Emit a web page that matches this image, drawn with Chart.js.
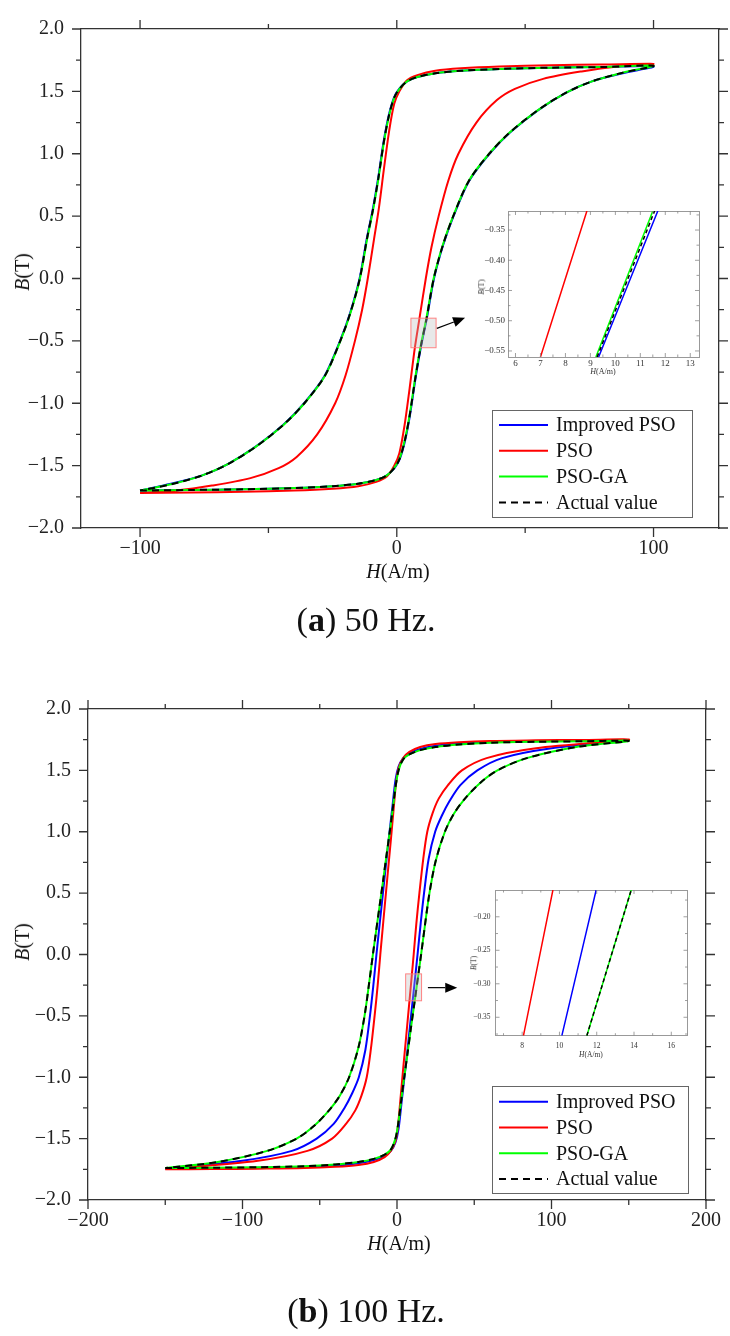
<!DOCTYPE html>
<html><head><meta charset="utf-8">
<script src="https://cdn.jsdelivr.net/npm/chart.js@4.4.0/dist/chart.umd.min.js"></script>
<style>
html,body{margin:0;padding:0;background:#fff;}
body{width:730px;height:1336px;position:relative;overflow:hidden;font-family:"Liberation Serif","Times New Roman",serif;}
canvas{position:absolute;}
.t{position:absolute;transform:translate(-50%,-50%);white-space:nowrap;color:#111;font-family:"Liberation Serif","Times New Roman",serif;line-height:1;}
.r{transform:translate(-50%,-50%) rotate(-90deg);}
</style></head><body>
<canvas id="ca" width="730" height="600" style="left:0;top:0"></canvas>
<canvas id="cb" width="730" height="600" style="left:0;top:680px"></canvas>
<canvas id="ia" width="240" height="185" style="left:470px;top:200px"></canvas>
<canvas id="ib" width="235" height="185" style="left:460px;top:880px"></canvas>

<div class="t r" style="left:22px;top:272px;font-size:20px"><i>B</i>(T)</div>
<div class="t" style="left:398px;top:571px;font-size:20px"><i>H</i>(A/m)</div>
<div class="t" style="left:366px;top:620px;font-size:34px">(<b>a</b>) 50 Hz.</div>
<div class="t r" style="left:22px;top:942px;font-size:20px"><i>B</i>(T)</div>
<div class="t" style="left:399px;top:1243px;font-size:20px"><i>H</i>(A/m)</div>
<div class="t" style="left:366px;top:1311px;font-size:34px">(<b>b</b>) 100 Hz.</div>
<div class="t r" style="left:482px;top:287px;font-size:8px;color:#333"><i>B</i>(T)</div>
<div class="t" style="left:603px;top:372px;font-size:8px;color:#333"><i>H</i>(A/m)</div>
<div class="t r" style="left:474px;top:963px;font-size:7.5px;color:#333"><i>B</i>(T)</div>
<div class="t" style="left:591px;top:1055px;font-size:7.5px;color:#333"><i>H</i>(A/m)</div>

<script>
// ---------------- series labels ----------------
const seriesNames = ['Improved PSO', 'PSO', 'PSO-GA', 'Actual value'];

// ---------------- (a) 50 Hz ----------------
const Ha_act_up = [-100,-80,-60,-40,-25,-15,-8,-4,-1,1,3,5,7.2,9.3,11.6,14.4,18,22,28,36,44,55,66,76,88,100];
const Ba_act_up = [-1.70,-1.695,-1.69,-1.68,-1.665,-1.645,-1.615,-1.58,-1.52,-1.45,-1.31,-1.10,-0.80,-0.55,-0.32,0.0,0.27,0.50,0.78,1.0,1.17,1.35,1.49,1.58,1.65,1.705];
const Ha_act_dn = [100,80,60,40,25,15,8,4,1,-1,-3,-5,-7.2,-9.3,-11.6,-14.4,-18,-22,-28,-36,-44,-55,-66,-76,-88,-100];
const Ba_act_dn = [1.705,1.695,1.69,1.68,1.665,1.645,1.615,1.58,1.52,1.45,1.31,1.10,0.80,0.55,0.32,0.0,-0.27,-0.50,-0.78,-1.0,-1.17,-1.35,-1.49,-1.58,-1.65,-1.70];

const Ha_imp_up = [-100,-80,-60,-40,-25,-15,-8,-4,-0.9,1.1,3.1,5.1,7.3,9.4,11.7,14.5,18.1,22.1,28.1,36.1,44.1,55.1,66,76,88,100];
const Ba_imp_up = [-1.70,-1.695,-1.69,-1.68,-1.665,-1.645,-1.615,-1.58,-1.52,-1.45,-1.31,-1.10,-0.80,-0.55,-0.32,0.0,0.27,0.50,0.78,1.0,1.17,1.35,1.49,1.58,1.645,1.70];
const Ha_imp_dn = [100,80,60,40,25,15,8,4,0.9,-1.1,-3.1,-5.1,-7.3,-9.4,-11.7,-14.5,-18.1,-22.1,-28.1,-36.1,-44.1,-55.1,-66,-76,-88,-100];
const Ba_imp_dn = [1.70,1.695,1.69,1.68,1.665,1.645,1.615,1.58,1.52,1.45,1.31,1.10,0.80,0.55,0.32,0.0,-0.27,-0.50,-0.78,-1.0,-1.17,-1.35,-1.49,-1.58,-1.645,-1.70];

const Ha_ga_up = [-100,-80,-60,-40,-25,-15,-8,-4,-1.05,0.95,2.95,4.95,7.15,9.22,11.52,14.35,17.95,21.95,27.95,35.95,43.95,55,66,76,88,100];
const Ba_ga_up = [-1.70,-1.695,-1.69,-1.68,-1.665,-1.645,-1.615,-1.58,-1.52,-1.45,-1.31,-1.10,-0.80,-0.55,-0.32,0.0,0.27,0.50,0.78,1.0,1.17,1.35,1.49,1.58,1.65,1.705];
const Ha_ga_dn = [100,80,60,40,25,15,8,4,1.05,-0.95,-2.95,-4.95,-7.15,-9.22,-11.52,-14.35,-17.95,-21.95,-27.95,-35.95,-43.95,-55,-66,-76,-88,-100];
const Ba_ga_dn = [1.705,1.695,1.69,1.68,1.665,1.645,1.615,1.58,1.52,1.45,1.31,1.10,0.80,0.55,0.32,0.0,-0.27,-0.50,-0.78,-1.0,-1.17,-1.35,-1.49,-1.58,-1.65,-1.70];

const Ha_pso_up = [-100,-80,-60,-40,-25,-15,-8,-4,-1,1,3,5,7.0,8.85,11.3,13.5,16.3,20,24,31,39,46,57,72,86,100];
const Ba_pso_up = [-1.72,-1.715,-1.71,-1.70,-1.685,-1.665,-1.63,-1.59,-1.50,-1.40,-1.18,-0.88,-0.56,-0.318,0.0,0.25,0.5,0.78,1.0,1.25,1.43,1.52,1.60,1.66,1.70,1.72];
const Ha_pso_dn = [100,80,60,40,25,15,8,4,1,-1,-3,-5,-7.0,-8.85,-11.3,-13.5,-16.3,-20,-24,-31,-39,-46,-57,-72,-86,-100];
const Ba_pso_dn = [1.72,1.715,1.71,1.70,1.685,1.665,1.63,1.59,1.50,1.40,1.18,0.88,0.56,0.318,0.0,-0.25,-0.5,-0.78,-1.0,-1.25,-1.43,-1.52,-1.60,-1.66,-1.70,-1.72];

// inset (a): zoomed segment
const IA_B   = [-0.56, -0.3185];
const IA_imp = [9.33, 11.70];
const IA_pso = [7.00, 8.86];
const IA_ga  = [9.22, 11.50];
const IA_act = [9.27, 11.57];

// ---------------- (b) 100 Hz ----------------
const Hb_act_up = [-150,-120,-90,-60,-40,-25,-15,-8,-4,-1,1,3,5,7,9,11.47,13.85,15.6,18,21,25,31,37,44,54,65,84,116,150];
const Bb_act_up = [-1.74,-1.737,-1.733,-1.725,-1.71,-1.69,-1.665,-1.63,-1.59,-1.50,-1.36,-1.16,-0.97,-0.79,-0.60,-0.3775,-0.16,0.0,0.23,0.50,0.76,1.0,1.15,1.27,1.40,1.50,1.60,1.69,1.74];
const Hb_act_dn = [150,120,90,60,40,25,15,8,4,1,-1,-3,-5,-7,-9,-11.47,-13.85,-15.6,-18,-21,-25,-31,-37,-44,-54,-65,-84,-116,-150];
const Bb_act_dn = [1.74,1.737,1.733,1.725,1.71,1.69,1.665,1.63,1.59,1.50,1.36,1.16,0.97,0.79,0.60,0.3775,0.16,0.0,-0.23,-0.50,-0.76,-1.0,-1.15,-1.27,-1.40,-1.50,-1.60,-1.69,-1.74];

const Hb_ga_up = [-150,-120,-90,-60,-40,-25,-15,-8,-4,-1,1,3,5,7,9,11.47,13.85,15.6,18,21,25,31,37,44,54,65,84,116,150];
const Bb_ga_up = [-1.74,-1.737,-1.733,-1.725,-1.71,-1.69,-1.665,-1.63,-1.59,-1.50,-1.36,-1.16,-0.97,-0.79,-0.60,-0.3775,-0.16,0.0,0.23,0.50,0.76,1.0,1.15,1.27,1.40,1.50,1.60,1.69,1.74];
const Hb_ga_dn = [150,120,90,60,40,25,15,8,4,1,-1,-3,-5,-7,-9,-11.47,-13.85,-15.6,-18,-21,-25,-31,-37,-44,-54,-65,-84,-116,-150];
const Bb_ga_dn = [1.74,1.737,1.733,1.725,1.71,1.69,1.665,1.63,1.59,1.50,1.36,1.16,0.97,0.79,0.60,0.3775,0.16,0.0,-0.23,-0.50,-0.76,-1.0,-1.15,-1.27,-1.40,-1.50,-1.60,-1.69,-1.74];

const Hb_imp_up = [-150,-120,-90,-60,-40,-25,-15,-8,-4,-1,1,3,5,7,10.13,11.97,13.3,15.3,17.5,20.5,24.7,29,34,41,52,68,100,150];
const Bb_imp_up = [-1.745,-1.742,-1.738,-1.73,-1.72,-1.70,-1.675,-1.64,-1.60,-1.53,-1.42,-1.20,-0.98,-0.75,-0.3775,-0.16,0.0,0.25,0.5,0.78,1.0,1.13,1.25,1.38,1.5,1.6,1.68,1.745];
const Hb_imp_dn = [150,120,90,60,40,25,15,8,4,1,-1,-3,-5,-7,-10.13,-11.97,-13.3,-15.3,-17.5,-20.5,-24.7,-29,-34,-41,-52,-68,-100,-150];
const Bb_imp_dn = [1.745,1.742,1.738,1.73,1.72,1.70,1.675,1.64,1.60,1.53,1.42,1.20,0.98,0.75,0.3775,0.16,0.0,-0.25,-0.5,-0.78,-1.0,-1.13,-1.25,-1.38,-1.5,-1.6,-1.68,-1.745];

const Hb_pso_up = [-150,-120,-90,-60,-40,-25,-15,-8,-4,-1,0.5,2,4,6,8.07,9.65,10.8,12.5,14.5,17,19.6,23,27,33,42,58,90,150];
const Bb_pso_up = [-1.75,-1.748,-1.745,-1.74,-1.73,-1.715,-1.69,-1.65,-1.60,-1.52,-1.41,-1.21,-0.93,-0.66,-0.3775,-0.16,0.0,0.25,0.5,0.78,1.0,1.15,1.27,1.38,1.5,1.6,1.68,1.75];
const Hb_pso_dn = [150,120,90,60,40,25,15,8,4,1,-0.5,-2,-4,-6,-8.07,-9.65,-10.8,-12.5,-14.5,-17,-19.6,-23,-27,-33,-42,-58,-90,-150];
const Bb_pso_dn = [1.75,1.748,1.745,1.74,1.73,1.715,1.69,1.65,1.60,1.52,1.41,1.21,0.93,0.66,0.3775,0.16,0.0,-0.25,-0.5,-0.78,-1.0,-1.15,-1.27,-1.38,-1.5,-1.6,-1.68,-1.75];

// inset (b)
const IB_B   = [-0.3775, -0.16];
const IB_imp = [10.13, 11.97];
const IB_pso = [8.07, 9.65];
const IB_ga  = [11.47, 13.85];
const IB_act = [11.47, 13.85];

// ---------------- ticks ----------------
const A_xTicks = [-100, 0, 100];           const A_xMinor = [-50, 50];
const B_xTicks = [-200, -100, 0, 100, 200]; const B_xMinor = [-150, -50, 50, 150];
const M_yTicks = [-2, -1.5, -1, -0.5, 0, 0.5, 1, 1.5, 2];
const M_yMinor = [-1.75, -1.25, -0.75, -0.25, 0.25, 0.75, 1.25, 1.75];
const IA_xTicks = [6, 7, 8, 9, 10, 11, 12, 13]; const IA_xMinor = [6.5, 7.5, 8.5, 9.5, 10.5, 11.5, 12.5];
const IA_yTicks = [-0.55, -0.5, -0.45, -0.4, -0.35]; const IA_yMinor = [-0.525, -0.475, -0.425, -0.375, -0.325];
const IB_xTicks = [8, 10, 12, 14, 16]; const IB_xMinor = [7, 9, 11, 13, 15];
const IB_yTicks = [-0.35, -0.3, -0.25, -0.2]; const IB_yMinor = [-0.375, -0.325, -0.275, -0.225, -0.175];

// zoom markers (data units): [H0, H1, B0, B1] and arrow [H0, B0, H1, B1]
const A_zoomRect = [5.5, 15.3, -0.555, -0.318];
const A_arrow = [15.6, -0.40, 26.6, -0.315];
const B_zoomRect = [5.6, 15.9, -0.377, -0.158];
const B_arrow = [20.0, -0.27, 39.0, -0.27];

// ---------------- helpers ----------------
const FAM = "'Liberation Serif','Times New Roman',serif";
const COLORS = {imp: '#0000ff', pso: '#ff0000', ga: '#00ff00', act: '#000000'};
function pts(H, B) { return H.map((h, i) => ({x: h, y: B[i]})); }
function loop(Hu, Bu, Hd, Bd) { return pts(Hu, Bu).concat(pts(Hd, Bd).slice(1)); }
function fmt(v, d) { return (v < -1e-9 ? '\u2212' : '') + Math.abs(v).toFixed(d); }
function ds(label, data, color, order, dash, w) {
  return {label, data, borderColor: color, backgroundColor: color, borderWidth: w || 2, pointRadius: 0,
    showLine: true, tension: 0.3, fill: false, order, borderDash: dash || []};
}

const frameTicks = {
  id: 'frameTicks',
  afterDraw(chart, args, o) {
    const ctx = chart.ctx, a = chart.chartArea, sx = chart.scales.x, sy = chart.scales.y;
    const d = o.inward ? -1 : 1;
    ctx.save(); ctx.strokeStyle = o.color; ctx.lineWidth = o.width; ctx.beginPath();
    const h = (v, L) => { const p = sx.getPixelForValue(v);
      ctx.moveTo(p, a.bottom); ctx.lineTo(p, a.bottom + d * L);
      ctx.moveTo(p, a.top); ctx.lineTo(p, a.top - d * L); };
    const vv = (v, L) => { const p = sy.getPixelForValue(v);
      ctx.moveTo(a.left, p); ctx.lineTo(a.left - d * L, p);
      ctx.moveTo(a.right, p); ctx.lineTo(a.right + d * L, p); };
    o.xMajor.forEach(v => h(v, o.major)); o.xMinor.forEach(v => h(v, o.minor));
    o.yMajor.forEach(v => vv(v, o.major)); o.yMinor.forEach(v => vv(v, o.minor));
    ctx.stroke(); ctx.restore();
  }
};

const boxLegend = {
  id: 'boxLegend',
  afterDraw(chart, args, o) {
    if (!o || !o.show) return;
    const ctx = chart.ctx;
    ctx.save();
    ctx.fillStyle = '#fff'; ctx.fillRect(o.x, o.y, o.w, o.h);
    ctx.strokeStyle = '#666'; ctx.lineWidth = 1; ctx.strokeRect(o.x + 0.5, o.y + 0.5, o.w, o.h);
    seriesNames.forEach((name, i) => {
      const dset = chart.data.datasets.find(d => d.label === name);
      const y = o.y + o.first + i * o.gap;
      ctx.strokeStyle = dset.borderColor; ctx.lineWidth = 2; ctx.setLineDash(dset.borderDash || []);
      ctx.beginPath(); ctx.moveTo(o.x + 7, y); ctx.lineTo(o.x + 56, y); ctx.stroke(); ctx.setLineDash([]);
      ctx.fillStyle = '#111'; ctx.font = '20px ' + FAM; ctx.textBaseline = 'middle'; ctx.textAlign = 'left';
      ctx.fillText(name, o.x + 64, y + 1);
    });
    ctx.restore();
  }
};

const zoomMark = {
  id: 'zoomMark',
  afterDatasetsDraw(chart, args, o) {
    if (!o || !o.rect) return;
    const ctx = chart.ctx, sx = chart.scales.x, sy = chart.scales.y;
    const x0 = sx.getPixelForValue(o.rect[0]), x1 = sx.getPixelForValue(o.rect[1]);
    const y0 = sy.getPixelForValue(o.rect[2]), y1 = sy.getPixelForValue(o.rect[3]);
    ctx.save();
    ctx.fillStyle = 'rgba(190,190,190,0.35)'; ctx.fillRect(x0, y1, x1 - x0, y0 - y1);
    ctx.strokeStyle = 'rgba(255,120,120,0.9)'; ctx.lineWidth = 1; ctx.strokeRect(x0, y1, x1 - x0, y0 - y1);
    const ax0 = sx.getPixelForValue(o.arrow[0]), ay0 = sy.getPixelForValue(o.arrow[1]);
    const ax1 = sx.getPixelForValue(o.arrow[2]), ay1 = sy.getPixelForValue(o.arrow[3]);
    const ang = Math.atan2(ay1 - ay0, ax1 - ax0), L = 12, W = 5;
    const bx = ax1 - L * Math.cos(ang), by = ay1 - L * Math.sin(ang);
    ctx.strokeStyle = '#000'; ctx.lineWidth = 1.2;
    ctx.beginPath(); ctx.moveTo(ax0, ay0); ctx.lineTo(bx, by); ctx.stroke();
    ctx.fillStyle = '#000'; ctx.beginPath(); ctx.moveTo(ax1, ay1);
    ctx.lineTo(bx - W * Math.sin(ang), by + W * Math.cos(ang));
    ctx.lineTo(bx + W * Math.sin(ang), by - W * Math.cos(ang)); ctx.closePath(); ctx.fill();
    ctx.restore();
  }
};

function axis(pos, min, max, step, size, tickOpts, borderColor, bw, show) {
  return {
    type: 'linear', position: pos, min, max,
    afterFit: s => { if (pos === 'left' || pos === 'right') s.width = size; else s.height = size; },
    ticks: Object.assign({display: show, stepSize: step, includeBounds: false, autoSkip: false, maxRotation: 0, minRotation: 0}, tickOpts),
    grid: {display: true, drawOnChartArea: false, drawTicks: false},
    border: {display: true, color: borderColor, width: bw}
  };
}

function makeMain(id, datasets, o) {
  const tk = (pad, dec) => ({padding: pad, color: '#222', font: {family: FAM, size: 20}, callback: v => fmt(v, dec)});
  return new Chart(document.getElementById(id), {
    type: 'scatter',
    data: {datasets},
    options: {
      responsive: false, animation: false, devicePixelRatio: 1,
      layout: {padding: 0},
      plugins: {
        legend: {display: false}, tooltip: {enabled: false},
        frameTicks: {xMajor: o.xTicks, xMinor: o.xMinor, yMajor: M_yTicks, yMinor: M_yMinor, major: 9, minor: 5, inward: false, color: '#333', width: 1.3},
        boxLegend: Object.assign({show: true}, o.legend),
        zoomMark: {rect: o.rect, arrow: o.arrow}
      },
      scales: {
        x: axis('bottom', o.xmin, o.xmax, o.xstep, o.bottomH, tk(o.xpad, 0), '#333', 1.3, true),
        x2: axis('top', o.xmin, o.xmax, o.xstep, o.topH, {}, '#333', 1.3, false),
        y: axis('left', -2, 2, 0.5, o.leftW, tk(17, 1), '#333', 1.3, true),
        y2: axis('right', -2, 2, 0.5, o.rightW, {}, '#333', 1.3, false)
      }
    },
    plugins: [frameTicks, boxLegend, zoomMark]
  });
}

function makeInset(id, datasets, o) {
  const tk = (pad, dec) => ({padding: pad, color: '#333', font: {family: FAM, size: o.fs}, callback: v => fmt(v, dec)});
  return new Chart(document.getElementById(id), {
    type: 'scatter',
    data: {datasets},
    options: {
      responsive: false, animation: false, devicePixelRatio: 1,
      layout: {padding: 0},
      plugins: {
        legend: {display: false}, tooltip: {enabled: false},
        frameTicks: {xMajor: o.xTicks, xMinor: o.xMinor, yMajor: o.yTicks, yMinor: o.yMinor, major: 4, minor: 2.5, inward: true, color: '#888', width: 0.8},
        boxLegend: {show: false}, zoomMark: {}
      },
      scales: {
        x: axis('bottom', o.xmin, o.xmax, o.xstep, o.bottomH, tk(o.xpad, 0), '#999', 1, true),
        x2: axis('top', o.xmin, o.xmax, o.xstep, o.topH, {}, '#999', 1, false),
        y: axis('left', o.ymin, o.ymax, o.ystep, o.leftW, tk(o.ypad, 2), '#999', 1, true),
        y2: axis('right', o.ymin, o.ymax, o.ystep, o.rightW, {}, '#999', 1, false)
      }
    },
    plugins: [frameTicks, boxLegend, zoomMark]
  });
}

const DASH = [7, 5];

makeMain('ca', [
  ds(seriesNames[0], loop(Ha_imp_up, Ba_imp_up, Ha_imp_dn, Ba_imp_dn), COLORS.imp, 3),
  ds(seriesNames[1], loop(Ha_pso_up, Ba_pso_up, Ha_pso_dn, Ba_pso_dn), COLORS.pso, 2),
  ds(seriesNames[2], loop(Ha_ga_up, Ba_ga_up, Ha_ga_dn, Ba_ga_dn), COLORS.ga, 1),
  ds(seriesNames[3], loop(Ha_act_up, Ba_act_up, Ha_act_dn, Ba_act_dn), COLORS.act, 0, DASH)
], {xmin: -123, xmax: 125.5, xstep: 100, xTicks: A_xTicks, xMinor: A_xMinor,
    leftW: 81, rightW: 11, topH: 17, bottomH: 72, xpad: 9,
    legend: {x: 492, y: 410, w: 200, h: 107, first: 15, gap: 25.8},
    rect: A_zoomRect, arrow: A_arrow});

makeMain('cb', [
  ds(seriesNames[0], loop(Hb_imp_up, Bb_imp_up, Hb_imp_dn, Bb_imp_dn), COLORS.imp, 3),
  ds(seriesNames[1], loop(Hb_pso_up, Bb_pso_up, Hb_pso_dn, Bb_pso_dn), COLORS.pso, 2),
  ds(seriesNames[2], loop(Hb_ga_up, Bb_ga_up, Hb_ga_dn, Bb_ga_dn), COLORS.ga, 1),
  ds(seriesNames[3], loop(Hb_act_up, Bb_act_up, Hb_act_dn, Bb_act_dn), COLORS.act, 0, DASH)
], {xmin: -200, xmax: 200, xstep: 100, xTicks: B_xTicks, xMinor: B_xMinor,
    leftW: 88, rightW: 20, topH: 20, bottomH: 80, xpad: 9,
    legend: {x: 492, y: 406, w: 196, h: 107, first: 15.7, gap: 25.8},
    rect: B_zoomRect, arrow: B_arrow});

makeInset('ia', [
  ds(seriesNames[0], pts(IA_imp, IA_B), COLORS.imp, 3, null, 1.5),
  ds(seriesNames[1], pts(IA_pso, IA_B), COLORS.pso, 2, null, 1.5),
  ds(seriesNames[2], pts(IA_ga, IA_B), COLORS.ga, 1, null, 1.5),
  ds(seriesNames[3], pts(IA_act, IA_B), COLORS.act, 0, [4, 3], 1.5)
], {xmin: 5.7, xmax: 13.35, xstep: 1, ymin: -0.56, ymax: -0.3185, ystep: 0.05,
    xTicks: IA_xTicks, xMinor: IA_xMinor, yTicks: IA_yTicks, yMinor: IA_yMinor,
    leftW: 38, rightW: 11, topH: 11, bottomH: 28, xpad: 1, ypad: 3, fs: 9});

makeInset('ib', [
  ds(seriesNames[0], pts(IB_imp, IB_B), COLORS.imp, 3, null, 1.5),
  ds(seriesNames[1], pts(IB_pso, IB_B), COLORS.pso, 2, null, 1.5),
  ds(seriesNames[2], pts(IB_ga, IB_B), COLORS.ga, 1, null, 1.5),
  ds(seriesNames[3], pts(IB_act, IB_B), COLORS.act, 0, [4, 3], 1.5)
], {xmin: 6.57, xmax: 16.87, xstep: 2, ymin: -0.3775, ymax: -0.16, ystep: 0.05,
    xTicks: IB_xTicks, xMinor: IB_xMinor, yTicks: IB_yTicks, yMinor: IB_yMinor,
    leftW: 35.5, rightW: 7.5, topH: 10, bottomH: 29.3, xpad: 6, ypad: 5, fs: 7.5});
</script>
</body></html>
